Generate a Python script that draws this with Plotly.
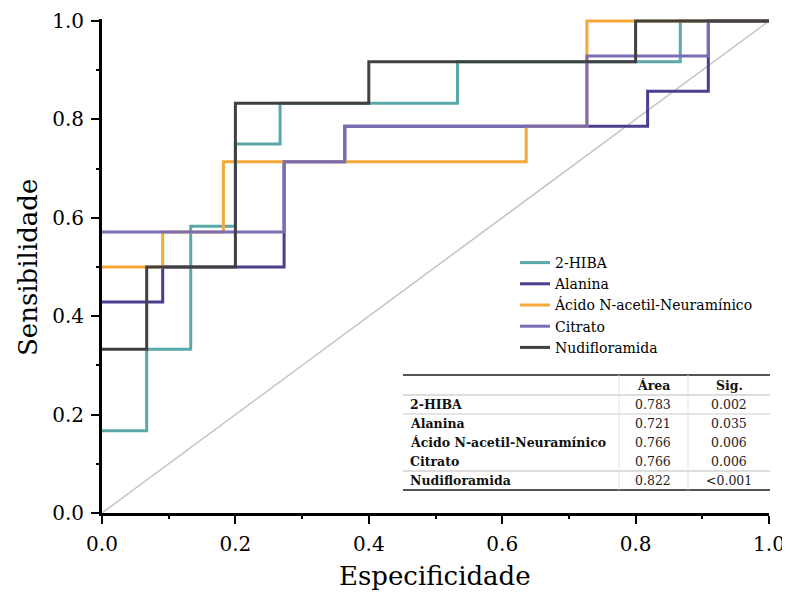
import plotly.graph_objects as go

# ---- data (ROC step points, drawn with horizontal-then-vertical steps) ----
series_names = ["2-HIBA", "Alanina", "Ácido N-acetil-Neuramínico", "Citrato", "Nudifloramida"]
hiba_x = [0.0, 0.067, 0.133, 0.200, 0.267, 0.533, 0.867, 1.0]
hiba_y = [0.167, 0.333, 0.583, 0.750, 0.833, 0.917, 1.0, 1.0]
alanina_x = [0.0, 0.091, 0.273, 0.364, 0.818, 0.909, 1.0]
alanina_y = [0.429, 0.500, 0.714, 0.786, 0.857, 1.0, 1.0]
acido_x = [0.0, 0.091, 0.182, 0.636, 0.727, 1.0]
acido_y = [0.500, 0.571, 0.714, 0.786, 1.0, 1.0]
citrato_x = [0.0, 0.273, 0.364, 0.727, 0.909, 1.0]
citrato_y = [0.571, 0.714, 0.786, 0.929, 1.0, 1.0]
nudi_x = [0.0, 0.067, 0.200, 0.400, 0.800, 1.0]
nudi_y = [0.333, 0.500, 0.833, 0.917, 1.0, 1.0]

table_header = ["", "Área", "Sig."]
table_labels = ["2-HIBA", "Alanina", "Ácido N-acetil-Neuramínico", "Citrato", "Nudifloramida"]
table_area = ["0.783", "0.721", "0.766", "0.766", "0.822"]
table_sig = ["0.002", "0.035", "0.006", "0.006", "<0.001"]

x_title = "Especificidade"
y_title = "Sensibilidade"

colors = ["#5BA8A8", "#4A3F8F", "#F4A93A", "#7A6DB4", "#404040"]
FONT = "DejaVu Serif"

# page has an 8px body margin; figure sized to fit the 790x601 window
OFF = 8
W, H = 782, 585
L, T = 94, 11
PW, PH = 667, 494          # plot area in px
R = W - L - PW
B = H - T - PH
YMAX = 1.004


def px(sx):
    """screen x (px) -> paper x"""
    return (sx - OFF - L) / PW


def py(sy):
    """screen y (px) -> paper y"""
    return (OFF + T + PH - sy) / PH


fig = go.Figure()

# diagonal reference
fig.add_trace(go.Scatter(x=[0, 1], y=[0, 1], mode="lines",
                         line=dict(color="#C4C4C4", width=1.5),
                         showlegend=False, hoverinfo="skip"))

all_x = [hiba_x, alanina_x, acido_x, citrato_x, nudi_x]
all_y = [hiba_y, alanina_y, acido_y, citrato_y, nudi_y]
for name, xs, ys, c in zip(series_names, all_x, all_y, colors):
    fig.add_trace(go.Scatter(x=xs, y=ys, mode="lines", name=name,
                             line=dict(color=c, width=3, shape="hv")))

# ---- table drawn with shapes + annotations ----
tx0, tx1 = 403, 770
col_lines = [619, 688]
row_centers = [385, 404, 423, 442, 461, 480]
hlines = [(375, 2, "#555555"), (395, 1, "#BBBBBB"), (414, 1, "#CCCCCC"),
          (471, 1, "#BBBBBB"), (490, 2, "#555555")]
shapes = []
for yl, w, c in hlines:
    shapes.append(dict(type="line", xref="paper", yref="paper",
                       x0=px(tx0), x1=px(tx1), y0=py(yl), y1=py(yl),
                       line=dict(color=c, width=w)))
for xl in col_lines:
    shapes.append(dict(type="line", xref="paper", yref="paper",
                       x0=px(xl), x1=px(xl), y0=py(375), y1=py(490),
                       line=dict(color="#E2E2E2", width=1)))

annotations = []
col_centers = [653, 729]
for j, h in enumerate(table_header[1:]):
    annotations.append(dict(text="<b>%s</b>" % h, xref="paper", yref="paper",
                            x=px(col_centers[j]), y=py(row_centers[0]),
                            xanchor="center", yanchor="middle", showarrow=False,
                            font=dict(family=FONT, size=12.5, color="#111111")))
for i in range(len(table_labels)):
    yc = py(row_centers[i + 1])
    annotations.append(dict(text="<b>%s</b>" % table_labels[i], xref="paper", yref="paper",
                            x=px(408), y=yc, xanchor="left", yanchor="middle",
                            showarrow=False, font=dict(family=FONT, size=12.5, color="#111111")))
    annotations.append(dict(text=table_area[i], xref="paper", yref="paper",
                            x=px(col_centers[0]), y=yc, xanchor="center", yanchor="middle",
                            showarrow=False, font=dict(family=FONT, size=12.5, color="#222222")))
    annotations.append(dict(text=table_sig[i], xref="paper", yref="paper",
                            x=px(col_centers[1]), y=yc, xanchor="center", yanchor="middle",
                            showarrow=False, font=dict(family=FONT, size=12.5, color="#222222")))

# axis titles as annotations (fixed positions)
annotations.append(dict(text=x_title, xref="paper", yref="paper", x=px(435), y=py(576),
                        xanchor="center", yanchor="middle", showarrow=False,
                        font=dict(family=FONT, size=26, color="black")))
annotations.append(dict(text=y_title, xref="paper", yref="paper", x=px(28), y=py(268),
                        xanchor="center", yanchor="middle", showarrow=False, textangle=-90,
                        font=dict(family=FONT, size=26, color="black")))

axis_common = dict(
    showgrid=False, zeroline=False, showline=True, linecolor="black", linewidth=3,
    ticks="outside", ticklen=8, tickwidth=2, tickcolor="black",
    dtick=0.2, tick0=0, tickformat=".1f", automargin=False,
    minor=dict(ticks="outside", ticklen=3, tickwidth=2, tickcolor="black", dtick=0.1),
    tickfont=dict(family=FONT, size=20, color="black"),
    ticklabelstandoff=3,
)

fig.update_layout(
    width=W, height=H,
    margin=dict(l=L, r=R, t=T, b=B, autoexpand=False),
    plot_bgcolor="white", paper_bgcolor="white",
    xaxis=dict(range=[0, 1.0], **axis_common),
    yaxis=dict(range=[0, YMAX], **axis_common),
    legend=dict(x=px(515), y=py(247), xanchor="left", yanchor="top",
                bgcolor="rgba(0,0,0,0)", font=dict(family=FONT, size=14, color="black"),
                tracegroupgap=0, itemwidth=30),
    shapes=shapes,
    annotations=annotations,
    showlegend=True,
)

fig.write_html("out.html")
